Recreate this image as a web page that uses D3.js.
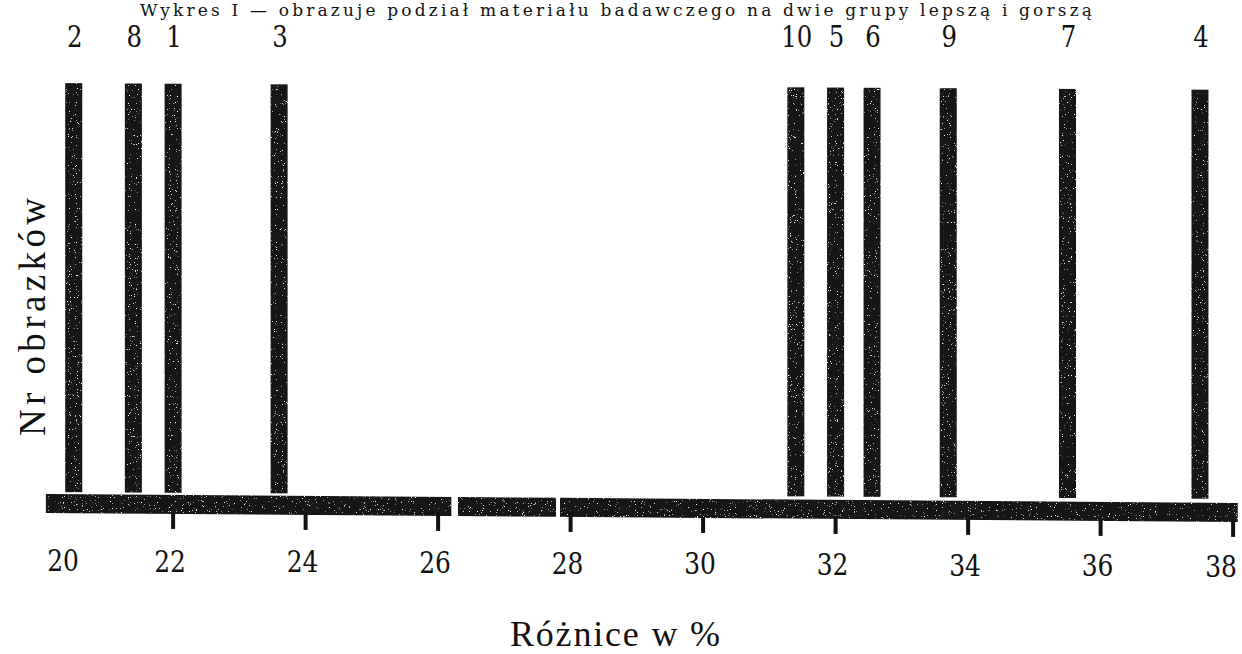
<!DOCTYPE html>
<html>
<head>
<meta charset="utf-8">
<script src="https://cdn.jsdelivr.net/npm/d3@7"></script>
<style>
  html, body { margin: 0; padding: 0; background: #fff; }
  svg { display: block; }
</style>
</head>
<body>
<svg id="chart" width="1242" height="654"></svg>
<script>
// ---- data ----
const imageIds   = ["2", "8", "1", "3", "10", "5", "6", "9", "7", "4"];
const diffValues = [20.5, 21.4, 22.0, 23.6, 31.4, 32.0, 32.55, 33.7, 35.5, 37.5];
const tickValues = [20, 22, 24, 26, 28, 30, 32, 34, 36, 38];
const tickMarks  = [22, 24, 26, 28, 30, 32, 34, 36, 38];
const axisSegments = [[20.08, 26.2], [26.3, 27.78], [27.84, 38.07]];
const titleText  = "Wykres I — obrazuje podział materiału badawczego na dwie grupy lepszą i gorszą";
const xLabelText = "Różnice w %";
const yLabelText = "Nr obrazków";

// ---- layout ----
const svg = d3.select("#chart");
const x = d3.scaleLinear().domain([20, 38]).range([40.6, 1233.1]);
const y = d3.scaleLinear().domain([0, 1]).range([492, 83]);
const tilt = xx => (xx - 46) * 0.0058;   // slight skew of the scanned page
const ink = "#121212";
const numFont = "'DejaVu Serif', serif";

const defs = svg.append("defs");
const f = defs.append("filter").attr("id", "speck")
  .attr("x", 0).attr("y", 0).attr("width", "100%").attr("height", "100%");
f.append("feTurbulence").attr("type", "fractalNoise").attr("baseFrequency", 0.85)
  .attr("numOctaves", 2).attr("seed", 7).attr("result", "n");
f.append("feColorMatrix").attr("in", "n").attr("type", "matrix")
  .attr("values", "0 0 0 0 1  0 0 0 0 1  0 0 0 0 1  11 0 0 0 -7.6").attr("result", "w");
f.append("feComposite").attr("in", "w").attr("in2", "SourceGraphic").attr("operator", "in").attr("result", "wi");
const fm = f.append("feMerge");
fm.append("feMergeNode").attr("in", "SourceGraphic");
fm.append("feMergeNode").attr("in", "wi");

// title
svg.append("text")
  .attr("x", 140).attr("y", 16)
  .attr("textLength", 952).attr("lengthAdjust", "spacing")
  .style("font-family", "'DejaVu Serif', serif").style("font-size", "17px")
  .attr("fill", "#111")
  .text(titleText);

// bars
const barW = 17;
svg.append("g").selectAll("rect").data(diffValues).join("rect")
  .attr("x", d => x(d) - barW / 2)
  .attr("y", d => y(1) + tilt(x(d)))
  .attr("width", barW)
  .attr("height", y(0) - y(1))
  .attr("fill", ink)
  .attr("filter", "url(#speck)");

// bar labels
svg.append("g").selectAll("text").data(diffValues).join("text")
  .attr("transform", d => `translate(${x(d) + 1},${47}) scale(0.84,1)`)
  .attr("text-anchor", "middle")
  .style("font-family", numFont).style("font-size", "29px")
  .attr("fill", "#111")
  .text((d, i) => imageIds[i]);

// axis bar (segments)
const barTop = xx => 494 + (xx - 46) * 0.0075;
svg.append("g").selectAll("path").data(axisSegments).join("path")
  .attr("d", s => {
    const x0 = x(s[0]), x1 = x(s[1]);
    return `M${x0},${barTop(x0)}L${x1},${barTop(x1)}L${x1},${barTop(x1) + 19}L${x0},${barTop(x0) + 19}Z`;
  })
  .attr("fill", ink)
  .attr("filter", "url(#speck)");

// tick marks
svg.append("g").selectAll("rect").data(tickMarks).join("rect")
  .attr("x", d => x(d) - 2)
  .attr("y", d => barTop(x(d)) + 18)
  .attr("width", 4)
  .attr("height", 16)
  .attr("fill", ink);

// tick labels
const labelX = d => Math.max(63, Math.min(1221, x(d) - 3));
svg.append("g").selectAll("text").data(tickValues).join("text")
  .attr("transform", d => `translate(${labelX(d)},${571 + (x(d) - 46) * 0.005}) scale(0.86,1)`)
  .attr("text-anchor", "middle")
  .style("font-family", numFont).style("font-size", "29px")
  .attr("fill", "#111")
  .text(d => d);

// x label
svg.append("text")
  .attr("x", 510).attr("y", 646)
  .attr("textLength", 210).attr("lengthAdjust", "spacing")
  .style("font-family", "'Liberation Serif', serif").style("font-size", "36px")
  .attr("fill", "#111")
  .text(xLabelText);

// y label
svg.append("text")
  .attr("transform", "translate(45,436) rotate(-90)")
  .attr("textLength", 238).attr("lengthAdjust", "spacing")
  .style("font-family", "'Liberation Serif', serif").style("font-size", "37px")
  .attr("fill", "#111")
  .text(yLabelText);
</script>
</body>
</html>
